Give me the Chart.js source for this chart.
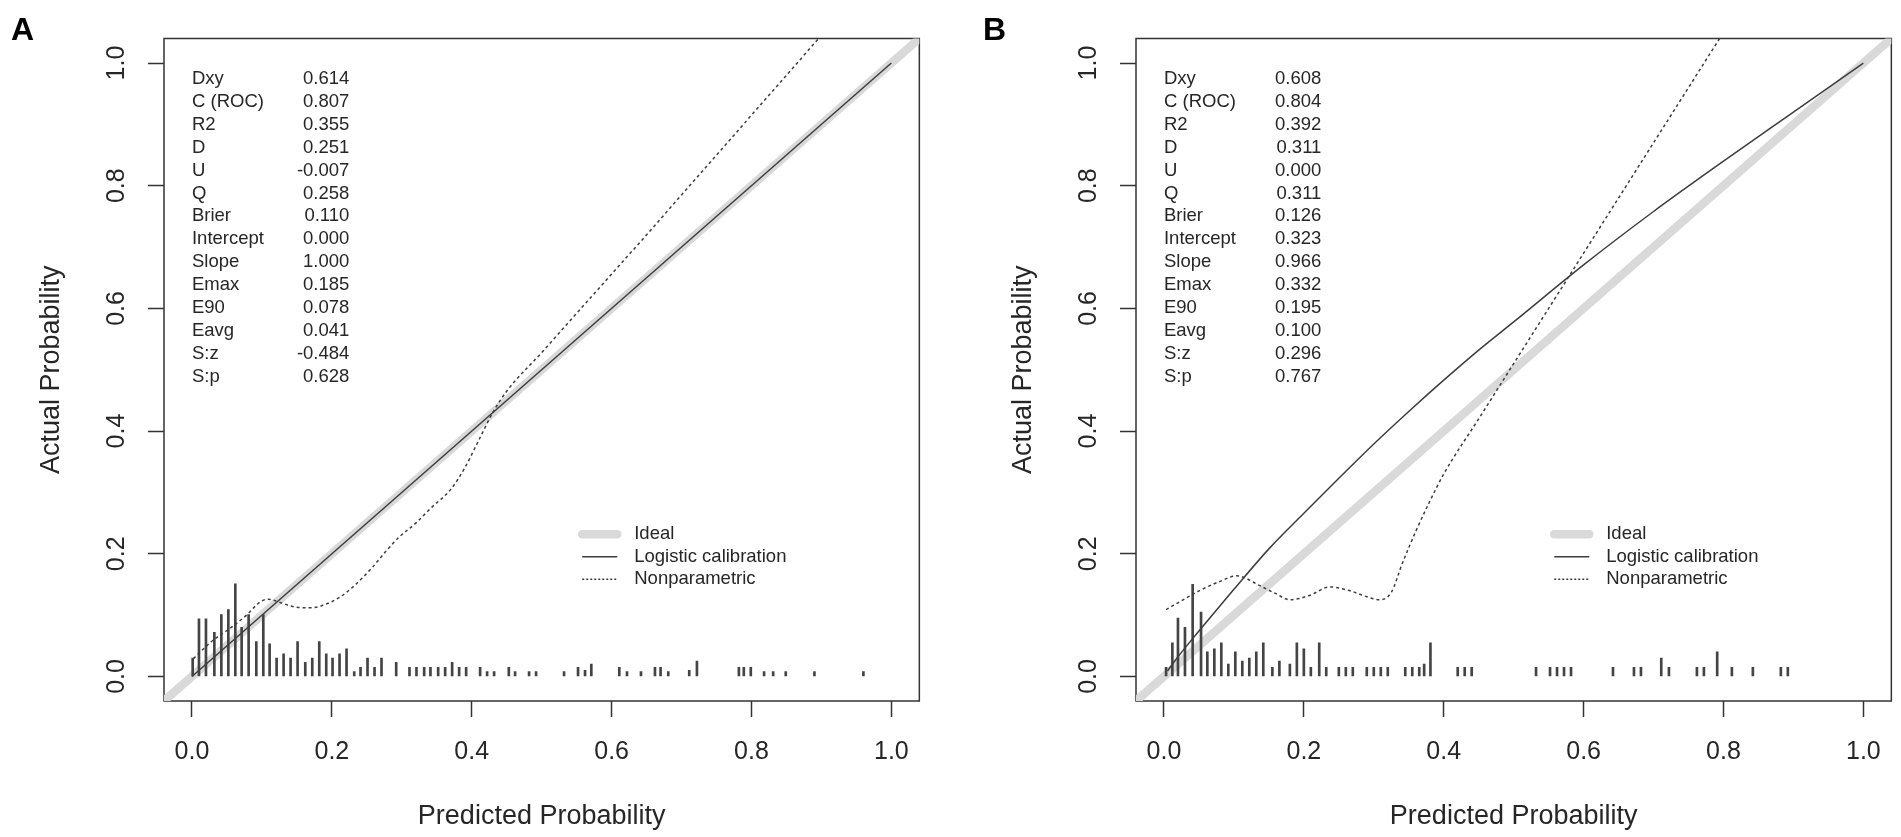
<!DOCTYPE html>
<html>
<head>
<meta charset="utf-8">
<title>Calibration plots A / B</title>
<script src="https://cdn.jsdelivr.net/npm/chart.js@4.4.1/dist/chart.umd.min.js"></script>
<style>
  html, body { margin: 0; padding: 0; background: #fff; overflow: hidden; }
  .panel { position: absolute; top: 0; width: 929px; height: 837px; }
  #panelA { left: 0; }
  #panelB { left: 972px; }
</style>
</head>
<body>
<div class="panel" id="panelA"><canvas id="chartA"></canvas></div>
<div class="panel" id="panelB"><canvas id="chartB"></canvas></div>
<script>
// Ticks (both axes, both panels)
const xTicks = [0, 0.2, 0.4, 0.6, 0.8, 1.0];
const yTicks = [0, 0.2, 0.4, 0.6, 0.8, 1.0];

// Stats block
const statLabels = ['Dxy', 'C (ROC)', 'R2', 'D', 'U', 'Q', 'Brier', 'Intercept', 'Slope', 'Emax', 'E90', 'Eavg', 'S:z', 'S:p'];
const statsA = ['0.614', '0.807', '0.355', '0.251', '-0.007', '0.258', '0.110', '0.000', '1.000', '0.185', '0.078', '0.041', '-0.484', '0.628'];
const statsB = ['0.608', '0.804', '0.392', '0.311', '0.000', '0.311', '0.126', '0.323', '0.966', '0.332', '0.195', '0.100', '0.296', '0.767'];

const legendLabels = ['Ideal', 'Logistic calibration', 'Nonparametric'];

// Ideal line y = x
const idealLine = [-0.1, 1.1];

// Panel A
const logAx = [0, 1];
const logAy = [0, 1];
const npAx = [0.002, 0.03, 0.054, 0.078, 0.097, 0.108, 0.125, 0.144, 0.171, 0.187, 0.211, 0.235, 0.258, 0.278, 0.296, 0.32, 0.343, 0.37, 0.39, 0.41, 0.43, 0.45, 0.5, 0.55, 0.6, 0.65, 0.7, 0.75, 0.8, 0.85, 0.9, 0.96];
const npAy = [0.029, 0.059, 0.078, 0.1, 0.121, 0.126, 0.121, 0.114, 0.112, 0.116, 0.129, 0.151, 0.178, 0.205, 0.227, 0.25, 0.276, 0.305, 0.34, 0.385, 0.43, 0.465, 0.528, 0.592, 0.656, 0.72, 0.785, 0.85, 0.915, 0.98, 1.045, 1.12];
const spikeAx = [0.001, 0.010, 0.020, 0.032, 0.042, 0.052, 0.062, 0.071, 0.081, 0.092, 0.102, 0.111, 0.121, 0.131, 0.141, 0.151, 0.162, 0.172, 0.182, 0.192, 0.201, 0.211, 0.221, 0.232, 0.241, 0.251, 0.261, 0.271, 0.292, 0.311, 0.321, 0.332, 0.341, 0.352, 0.362, 0.372, 0.382, 0.392, 0.412, 0.422, 0.432, 0.453, 0.462, 0.482, 0.492, 0.532, 0.552, 0.562, 0.571, 0.611, 0.622, 0.642, 0.662, 0.670, 0.681, 0.711, 0.722, 0.782, 0.789, 0.799, 0.818, 0.831, 0.849, 0.89, 0.96];
const spikeAh = [0.030, 0.094, 0.094, 0.072, 0.101, 0.109, 0.151, 0.080, 0.101, 0.057, 0.101, 0.053, 0.030, 0.037, 0.030, 0.057, 0.023, 0.030, 0.057, 0.037, 0.030, 0.037, 0.045, 0.008, 0.015, 0.030, 0.015, 0.030, 0.023, 0.015, 0.015, 0.015, 0.015, 0.015, 0.015, 0.023, 0.015, 0.015, 0.015, 0.008, 0.008, 0.015, 0.008, 0.008, 0.008, 0.008, 0.015, 0.010, 0.020, 0.015, 0.008, 0.008, 0.015, 0.015, 0.008, 0.010, 0.025, 0.015, 0.015, 0.015, 0.008, 0.008, 0.008, 0.008, 0.008];

// Panel B
const logBx = [0.005, 0.02, 0.05, 0.1, 0.15, 0.2, 0.25, 0.3, 0.35, 0.4, 0.45, 0.5, 0.6, 0.7, 0.8, 0.9, 1.0];
const logBy = [0.009, 0.032, 0.074, 0.142, 0.208, 0.266, 0.323, 0.379, 0.432, 0.483, 0.532, 0.578, 0.671, 0.758, 0.84, 0.92, 1.0];
const npBx = [0.003, 0.02, 0.051, 0.08, 0.104, 0.113, 0.137, 0.16, 0.18, 0.208, 0.237, 0.265, 0.29, 0.308, 0.325, 0.341, 0.361, 0.379, 0.4, 0.45, 0.5, 0.55, 0.6, 0.65, 0.7, 0.75, 0.8, 0.85, 0.89];
const npBy = [0.109, 0.12, 0.140, 0.155, 0.164, 0.162, 0.148, 0.135, 0.125, 0.132, 0.146, 0.140, 0.13, 0.125, 0.137, 0.185, 0.239, 0.283, 0.33, 0.42, 0.51, 0.6, 0.69, 0.78, 0.87, 0.96, 1.05, 1.14, 1.21];
const spikeBx = [0.003, 0.012, 0.02, 0.03, 0.041, 0.053, 0.062, 0.072, 0.082, 0.092, 0.102, 0.112, 0.122, 0.132, 0.142, 0.155, 0.165, 0.18, 0.19, 0.2, 0.21, 0.222, 0.232, 0.25, 0.26, 0.27, 0.29, 0.3, 0.31, 0.32, 0.345, 0.355, 0.365, 0.372, 0.381, 0.42, 0.43, 0.44, 0.532, 0.552, 0.562, 0.572, 0.582, 0.642, 0.672, 0.682, 0.711, 0.722, 0.762, 0.772, 0.791, 0.812, 0.842, 0.882, 0.892];
const spikeBh = [0.015, 0.055, 0.095, 0.08, 0.15, 0.105, 0.04, 0.045, 0.055, 0.02, 0.04, 0.025, 0.03, 0.04, 0.055, 0.015, 0.025, 0.02, 0.055, 0.045, 0.015, 0.055, 0.015, 0.015, 0.015, 0.015, 0.015, 0.015, 0.015, 0.015, 0.015, 0.015, 0.015, 0.02, 0.055, 0.015, 0.015, 0.015, 0.015, 0.015, 0.015, 0.015, 0.015, 0.015, 0.015, 0.015, 0.03, 0.015, 0.015, 0.015, 0.04, 0.015, 0.015, 0.015, 0.015];

const FONT = '"Liberation Sans", Arial, Helvetica, sans-serif';
const INK = '#262626';
const LINE = '#3d3d3d';
const IDEAL = '#d9d9d9';

function pontos(xs, ys) {
    return xs.map((v, i) => ({ x: v, y: ys[i] }));
}

// box, rotated y labels, panel letter, stats block and legend
const painelPlugin = {
    id: 'painel',
    beforeDatasetsDraw(chart) {
        const { ctx, chartArea: a } = chart;
        ctx.save();
        ctx.strokeStyle = '#333';
        ctx.lineWidth = 1.5;
        ctx.strokeRect(a.left, a.top, a.right - a.left, a.bottom - a.top);
        ctx.restore();
    },
    afterDatasetsDraw(chart, args, opts) {
        const { ctx, chartArea: a, scales: { x, y } } = chart;
        ctx.save();
        ctx.fillStyle = INK;

        ctx.font = '25px ' + FONT;
        ctx.textAlign = 'center';
        ctx.textBaseline = 'middle';
        yTicks.forEach(v => {
            ctx.save();
            ctx.translate(a.left - 47, y.getPixelForValue(v));
            ctx.rotate(-Math.PI / 2);
            ctx.fillText(v.toFixed(1), 0, 0);
            ctx.restore();
        });

        ctx.font = 'bold 32px ' + FONT;
        ctx.textAlign = 'left';
        ctx.textBaseline = 'alphabetic';
        ctx.fillStyle = '#000';
        ctx.fillText(opts.letra, 11, 40);

        ctx.fillStyle = INK;
        ctx.font = '18.5px ' + FONT;
        ctx.textBaseline = 'middle';
        const sx0 = x.getPixelForValue(0);
        const sx1 = x.getPixelForValue(0.225);
        const sy0 = y.getPixelForValue(0.974);
        statLabels.forEach((lab, i) => {
            ctx.textAlign = 'left';
            ctx.fillText(lab, sx0, sy0 + i * 22.9);
            ctx.textAlign = 'right';
            ctx.fillText(opts.stats[i], sx1, sy0 + i * 22.9);
        });

        const estilos = [
            { color: IDEAL, width: 8.5, dash: [], cap: 'round' },
            { color: LINE, width: 1.5, dash: [], cap: 'butt' },
            { color: LINE, width: 1.5, dash: [2, 2], cap: 'butt' }
        ];
        const lx = x.getPixelForValue(0.558);
        const ly = y.getPixelForValue(0.232);
        ctx.textAlign = 'left';
        legendLabels.forEach((lab, i) => {
            const yy = ly + i * 22.5;
            const s = estilos[i];
            ctx.beginPath();
            ctx.moveTo(lx, yy);
            ctx.lineTo(lx + 35, yy);
            ctx.strokeStyle = s.color;
            ctx.lineWidth = s.width;
            ctx.lineCap = s.cap;
            ctx.setLineDash(s.dash);
            ctx.stroke();
            ctx.fillText(lab, lx + 52, yy);
        });
        ctx.restore();
    }
};

function montarGrafico(id, letra, stats, spikeX, spikeH, logX, logY, npX, npY) {
    const ctx = document.getElementById(id).getContext('2d');
    const eixoComum = {
        type: 'linear',
        min: -0.04,
        max: 1.04,
        offset: false,
        border: { display: false },
        grid: {
            drawOnChartArea: false,
            drawTicks: true,
            tickLength: 16,
            tickColor: '#333',
            tickWidth: 1.5,
            offset: false
        }
    };
    return new Chart(ctx, {
        type: 'line',
        data: {
            datasets: [
                {
                    label: 'Nonparametric',
                    data: pontos(npX, npY),
                    borderColor: LINE,
                    borderWidth: 1.5,
                    borderDash: [3, 3],
                    pointRadius: 0,
                    cubicInterpolationMode: 'monotone',
                    clip: 0,
                    order: 1
                },
                {
                    label: 'Logistic calibration',
                    data: pontos(logX, logY),
                    borderColor: LINE,
                    borderWidth: 1.5,
                    pointRadius: 0,
                    cubicInterpolationMode: 'monotone',
                    clip: 0,
                    order: 2
                },
                {
                    type: 'bar',
                    label: 'Spikes',
                    data: pontos(spikeX, spikeH),
                    backgroundColor: '#444',
                    borderWidth: 0,
                    barThickness: 2,
                    clip: 0,
                    order: 3
                },
                {
                    label: 'Ideal',
                    data: pontos(idealLine, idealLine),
                    borderColor: IDEAL,
                    borderWidth: 8.5,
                    pointRadius: 0,
                    clip: 0,
                    order: 4
                }
            ]
        },
        options: {
            responsive: true,
            maintainAspectRatio: false,
            animation: false,
            events: [],
            layout: { padding: { top: 38.5, right: 7, bottom: 0, left: 0 } },
            plugins: {
                legend: { display: false },
                tooltip: { enabled: false },
                painel: { letra: letra, stats: stats }
            },
            scales: {
                x: Object.assign({}, eixoComum, {
                    afterBuildTicks: s => { s.ticks = xTicks.map(v => ({ value: v })); },
                    afterFit: s => { s.height = 136; },
                    ticks: {
                        autoSkip: false,
                        maxRotation: 0,
                        minRotation: 0,
                        padding: 20,
                        color: INK,
                        font: { size: 25, family: FONT },
                        callback: v => Number(v).toFixed(1)
                    },
                    title: {
                        display: true,
                        text: 'Predicted Probability',
                        color: INK,
                        font: { size: 27, family: FONT },
                        padding: { top: 0, bottom: 4 }
                    }
                }),
                y: Object.assign({}, eixoComum, {
                    afterBuildTicks: s => { s.ticks = yTicks.map(v => ({ value: v })); },
                    afterFit: s => { s.width = 164; },
                    ticks: { display: false },
                    title: {
                        display: true,
                        text: 'Actual Probability',
                        color: INK,
                        font: { size: 27, family: FONT },
                        padding: { top: 35, bottom: 0 }
                    }
                })
            }
        },
        plugins: [painelPlugin]
    });
}

montarGrafico('chartA', 'A', statsA, spikeAx, spikeAh, logAx, logAy, npAx, npAy);
montarGrafico('chartB', 'B', statsB, spikeBx, spikeBh, logBx, logBy, npBx, npBy);
</script>
</body>
</html>
